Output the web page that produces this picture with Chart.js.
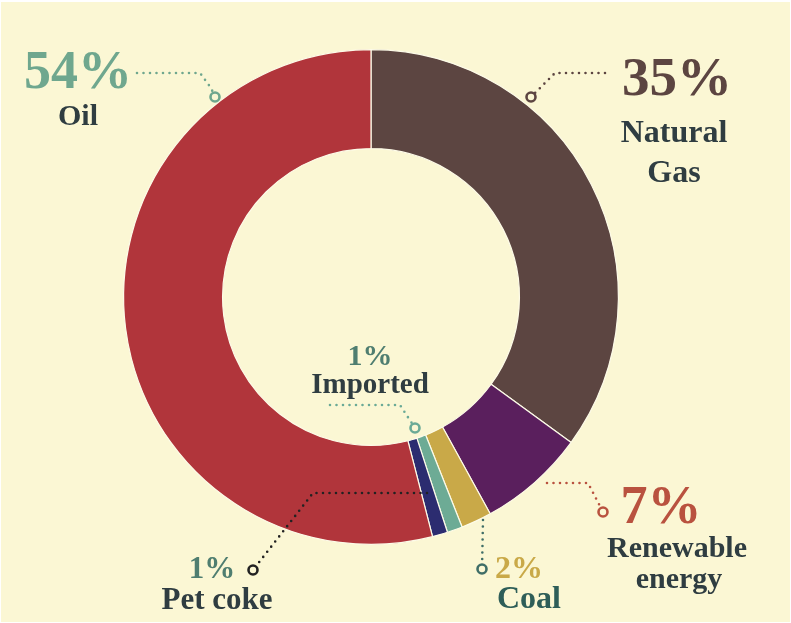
<!DOCTYPE html>
<html>
<head>
<meta charset="utf-8">
<script src="https://cdn.jsdelivr.net/npm/chart.js@4.4.1/dist/chart.umd.min.js"></script>
<style>
  html, body { margin: 0; padding: 0; background: #ffffff; }
  #wrap { width: 791px; height: 623px; }
</style>
</head>
<body>
<div id="wrap"><canvas id="energyChart" width="791" height="623"></canvas></div>
<script>
// Energy mix, clockwise from 12 o'clock
const labels = ["Natural Gas", "Renewable energy", "Coal", "Imported", "Pet coke", "Oil"];
const shares = [35, 7, 2, 1, 1, 54];
const sliceColors = ["#5c4541", "#5a1f5d", "#c9a948", "#6dab95", "#2c2c70", "#b1353b"];

// label text for each slice (name lines), percent colour, name colour
const nameLines = [["Natural", "Gas"], ["Renewable", "energy"], ["Coal"], ["Imported"], ["Pet coke"], ["Oil"]];
const pctColors = ["#5c4541", "#b9523f", "#c9a948", "#4f7e70", "#4f7e70", "#6fa78e"];
const nameColors = ["#2f3d41", "#2f3d41", "#2e5e58", "#2f3d41", "#2f3d41", "#2f3d41"];

// label layout relative to the doughnut centre (pct box, names, leader path ending at the ring)
const annotations = [
    { pct: [306, -202, 55], names: [[303, -155], [303, -115]], nameSize: 32,
      path: [[234, -224], [184, -224], [160, -200]], lineColor: "#5c4541" },
    { pct: [290, 226, 54], names: [[306, 260], [308, 291]], nameSize: 30,
      path: [[176, 186], [217, 186], [232, 215]], lineColor: "#b9523f" },
    { pct: [148, 281, 32], names: [[158, 311]], nameSize: 32,
      path: [[112, 223], [111, 272]], lineColor: "#3f6e67" },
    { pct: [-1, 68, 30], names: [[-1, 96]], nameSize: 29,
      path: [[-41, 108], [29, 108], [44, 131]], lineColor: "#6aaa96" },
    { pct: [-159, 281, 31], names: [[-154, 312]], nameSize: 31,
      path: [[56, 196], [-58, 196], [-118, 273]], lineColor: "#222222" },
    { pct: [-293, -209, 54], names: [[-293, -172]], nameSize: 30,
      path: [[-234, -224], [-171, -224], [-160, -209], [-156, -200]], lineColor: "#6fa78e" }
];

const bgPlugin = {
    id: "bg",
    beforeDraw(chart) {
        const ctx = chart.ctx;
        ctx.save();
        ctx.fillStyle = "#fbf7d4";
        ctx.fillRect(1, 2, chart.width - 2, chart.height - 3);
        ctx.restore();
    }
};

const labelPlugin = {
    id: "sliceLabels",
    afterDatasetsDraw(chart) {
        const ctx = chart.ctx;
        const arc = chart.getDatasetMeta(0).data[0];
        const cx = arc.x, cy = arc.y;
        ctx.save();
        annotations.forEach((a, i) => {
            // dotted leader line
            ctx.strokeStyle = a.lineColor;
            ctx.lineWidth = 2.6;
            ctx.lineCap = "round";
            ctx.lineJoin = "round";
            ctx.setLineDash([0, 6.5]);
            ctx.beginPath();
            a.path.forEach((p, k) => {
                if (k === 0) ctx.moveTo(cx + p[0], cy + p[1]);
                else ctx.lineTo(cx + p[0], cy + p[1]);
            });
            ctx.stroke();
            ctx.setLineDash([]);
            // ring at the end of the leader
            const rp = a.path[a.path.length - 1];
            ctx.beginPath();
            ctx.arc(cx + rp[0], cy + rp[1], 4.5, 0, Math.PI * 2);
            ctx.fillStyle = "#fbf7d4";
            ctx.fill();
            ctx.lineWidth = 2.6;
            ctx.stroke();

            // percent text
            ctx.textAlign = "center";
            ctx.textBaseline = "alphabetic";
            ctx.fillStyle = pctColors[i];
            ctx.font = "bold " + a.pct[2] + "px 'Liberation Serif', serif";
            ctx.fillText(shares[i] + "%", cx + a.pct[0], cy + a.pct[1]);
            // name lines
            ctx.fillStyle = nameColors[i];
            ctx.font = "bold " + a.nameSize + "px 'Liberation Serif', serif";
            nameLines[i].forEach((t, k) => {
                ctx.fillText(t, cx + a.names[k][0], cy + a.names[k][1]);
            });
        });
        ctx.restore();
    }
};

new Chart(document.getElementById("energyChart").getContext("2d"), {
    type: "doughnut",
    data: {
        labels: labels,
        datasets: [{
            data: shares,
            backgroundColor: sliceColors,
            borderColor: "#fdfbe8",
            borderWidth: 1.2
        }]
    },
    options: {
        responsive: false,
        animation: false,
        cutout: "60%",
        rotation: 0,
        layout: { padding: { top: 49, bottom: 78, left: 123, right: 172 } },
        plugins: {
            legend: { display: false },
            tooltip: { enabled: false }
        }
    },
    plugins: [bgPlugin, labelPlugin]
});
</script>
</body>
</html>
